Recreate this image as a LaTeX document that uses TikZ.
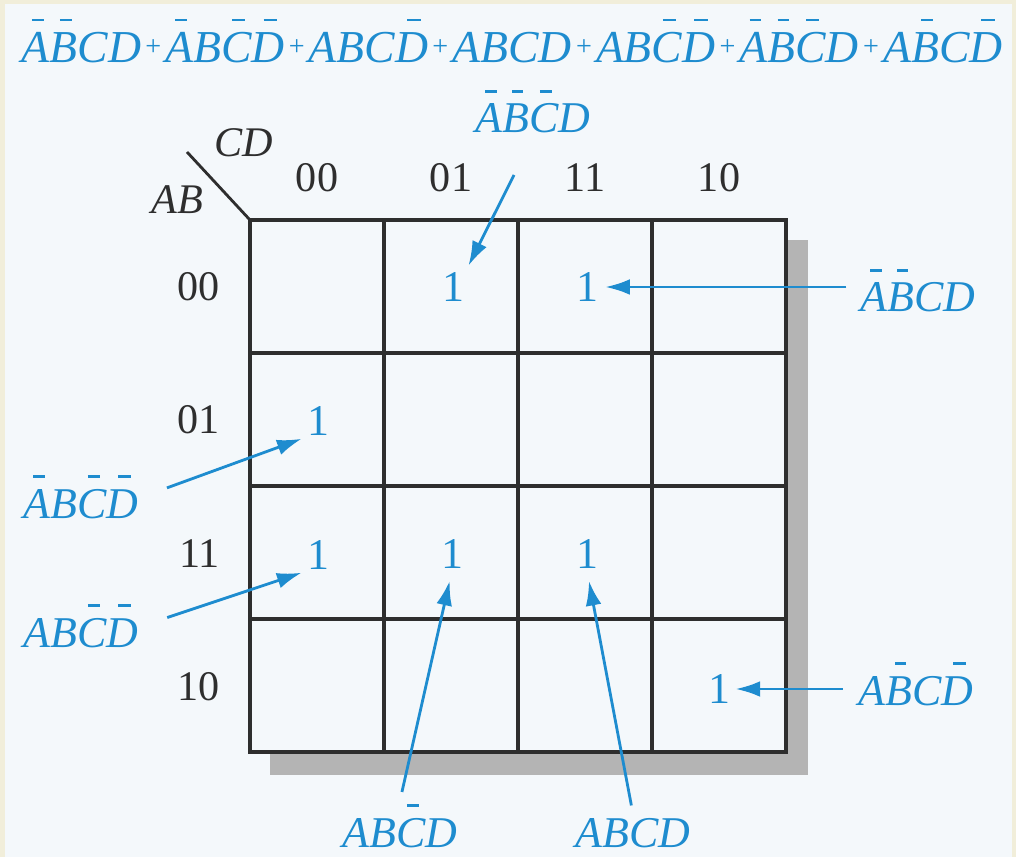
\documentclass[tikz,border=0pt]{standalone}
\usepackage{fontspec}
\setmainfont{Liberation Serif}
\usetikzlibrary{arrows.meta}
\definecolor{kblue}{HTML}{1E8CCF}
\definecolor{kgrid}{HTML}{2E2E2E}
\definecolor{kshadow}{HTML}{B4B4B4}
\definecolor{kpaper}{HTML}{F4F8FB}
\definecolor{kcream}{HTML}{F1EEDA}
% short complement bar over one letter
\newcommand{\nbar}[1]{\setbox0\hbox{#1}\rlap{\hspace{0.36\wd0}\raisebox{0.92em}{\rule{0.42\wd0}{0.05em}}}\box0}
\newcommand{\pl}{\hspace{2.4pt}\raisebox{4pt}{\fontsize{16}{16}\selectfont\upshape+}\hspace{2.4pt}}

\begin{document}
\begin{tikzpicture}[x=0.02cm, y=-0.02cm,
    hdr/.style={font=\fontsize{24}{26}\selectfont, text=kgrid, inner sep=0pt},
    one/.style={font=\fontsize{25}{27}\selectfont, text=kblue, inner sep=1pt},
    term/.style={font=\fontsize{25}{27}\selectfont\itshape, text=kblue, inner sep=2pt},
    ptr/.style={kblue, line width=1.6pt, -{Latex[length=14pt,width=9pt]}}]
  \fill[kcream] (0,0) rectangle (1016,857);
  \fill[kpaper] (5,4) rectangle (1012,857);
  \useasboundingbox (0,0) rectangle (1016,857);

  % sum of minterms
  \node[term, anchor=base west, font=\fontsize{26}{28}\selectfont\itshape] (expr) at (18,63)
    {\nbar{A}\nbar{B}CD\pl\nbar{A}B\nbar{C}\nbar{D}\pl ABC\nbar{D}\pl ABCD\pl AB\nbar{C}\nbar{D}\pl\nbar{A}\nbar{B}\nbar{C}D\pl A\nbar{B}C\nbar{D}};

  % shadow and grid
  \fill[kshadow] (270,752) rectangle (808,775);
  \fill[kshadow] (786,240) rectangle (808,775);
  \foreach \r in {0,...,3}{
    \foreach \c in {0,...,3}{
      \draw[kgrid, line width=1.9pt] (250+134*\c, 220+133*\r) rectangle ++(134,133);
    }
  }
  \draw[kgrid, line width=2.6pt] (250,220) rectangle (786,752);

  % axis labels
  \coordinate (corner) at (250,220);
  \draw[kgrid, line width=1.6pt] (187,152) -- (corner);
  \node[hdr, font=\fontsize{24}{26}\selectfont\itshape] (cdlab) at (244,143) {CD};
  \node[hdr, font=\fontsize{24}{26}\selectfont\itshape] (ablab) at (177,200) {AB};
  \foreach \lab [count=\i from 0] in {00,01,11,10}{
    \node[hdr, anchor=base] (col\i) at (317+134*\i, 192) {\lab};
    \node[hdr, anchor=base east] (row\i) at (220, 301+133*\i) {\lab};
  }

  % ones
  \node[one] (m1) at (453,287) {1};
  \node[one] (m3) at (587,287) {1};
  \node[one] (m4) at (318,421) {1};
  \node[one] (m12) at (318,555) {1};
  \node[one] (m13) at (452,554) {1};
  \node[one] (m15) at (587,554) {1};
  \node[one] (m10) at (719,689) {1};

  % minterm labels
  \node[term, anchor=base] (t1) at (533,133) {\nbar{A}\nbar{B}\nbar{C}D};
  \node[term, anchor=base] (t3) at (918,312) {\nbar{A}\nbar{B}CD};
  \node[term, anchor=base] (t4) at (81,518) {\nbar{A}B\nbar{C}\nbar{D}};
  \node[term, anchor=base] (t12) at (81,647) {AB\nbar{C}\nbar{D}};
  \node[term, anchor=base] (t13) at (400,847) {AB\nbar{C}D};
  \node[term, anchor=base] (t15) at (633,847) {ABCD};
  \node[term, anchor=base] (t10) at (916,705) {A\nbar{B}C\nbar{D}};

  \draw[ptr, shorten <=24pt, shorten >=3pt] (t1.south) -- (m1.north east);
  \draw[ptr, shorten <=6pt, shorten >=3pt] (t3.west |- m3) -- (m3.east);
  \draw[ptr, shorten <=15pt, shorten >=2pt] (t4.east) -- (m4.south west);
  \draw[ptr, shorten <=15pt, shorten >=2pt] (t12.east) -- (m12.south west);
  \draw[ptr, shorten <=5pt, shorten >=6pt] (t13.north) -- (m13.south);
  \draw[ptr, shorten <=5pt, shorten >=6pt] (t15.north) -- (m15.south);
  \draw[ptr, shorten <=7pt, shorten >=2pt] (t10.west |- m10) -- (m10.east);
\end{tikzpicture}
\end{document}
